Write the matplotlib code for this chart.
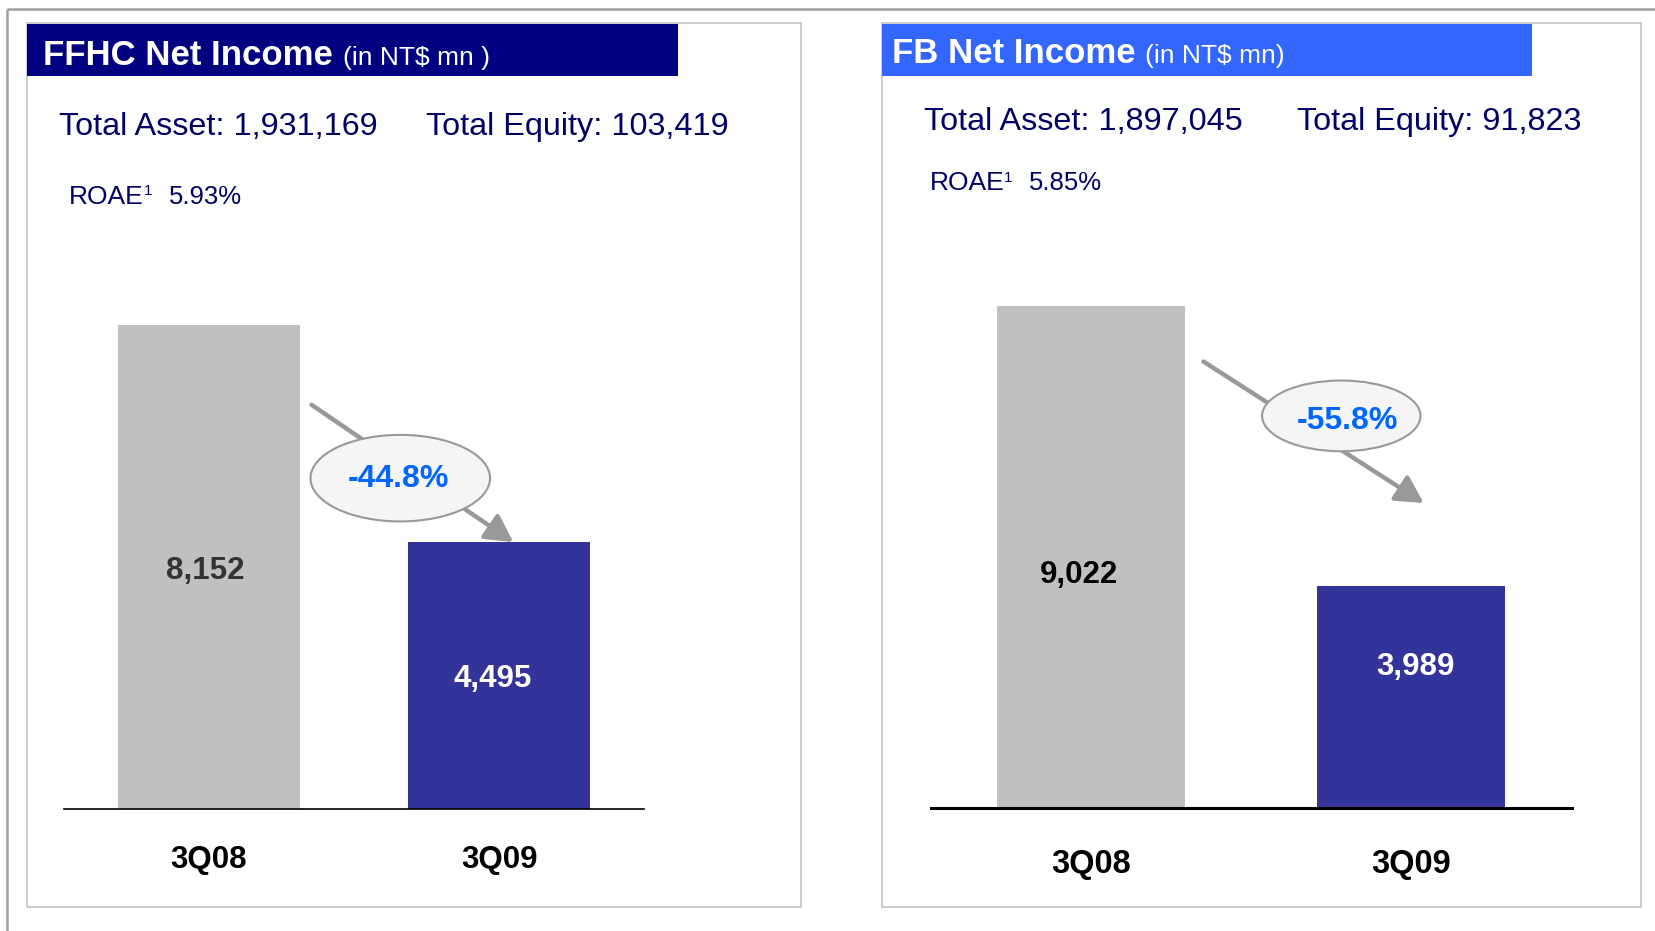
import matplotlib
matplotlib.use('Agg')
import matplotlib.pyplot as plt
from matplotlib.patches import Rectangle, Ellipse, FancyArrowPatch

plt.rcParams['font.family'] = ['Liberation Sans', 'DejaVu Sans']

# data
quarters = ['3Q08', '3Q09']
ffhc_income = [8152, 4495]
fb_income = [9022, 3989]
ffhc_change = '-44.8%'
fb_change = '-55.8%'
ffhc_asset = '1,931,169'
ffhc_equity = '103,419'
ffhc_roae = '5.93%'
fb_asset = '1,897,045'
fb_equity = '91,823'
fb_roae = '5.85%'

# layout is worked out in a 1568x882 reference frame, scaled to the output
W, H = 1568, 882
NAVY_TXT = '#000066'
GREY_BAR = '#C0C0C0'
BLUE_BAR = '#333399'
ARROW = '#999999'

fig = plt.figure(figsize=(16.56, 9.31), dpi=100)


def frac(x0, y0, x1, y1):
    return [x0 / W, 1 - y1 / H, (x1 - x0) / W, (y1 - y0) / H]


bg = fig.add_axes([0, 0, 1, 1])
bg.set_xlim(0, W)
bg.set_ylim(H, 0)
bg.axis('off')

# outer slide frame
bg.plot([7, W], [8.5, 8.5], color='#a0a0a0', lw=1.8, solid_capstyle='butt')
bg.plot([7, 7], [8.5, H], color='#a0a0a0', lw=1.8, solid_capstyle='butt')

panels = [
    dict(title='FFHC Net Income', unit='(in NT$ mn )', head='#000080',
         box=(26, 21.5, 758, 859.5), bar=(26, 22.5, 642, 72),
         tx=40.5, tunit=325, tby=61.6,
         asset=ffhc_asset, equity=ffhc_equity, roae=ffhc_roae,
         ax_=(56, 403, 128), rx=(65.5, 136, 159.6), ry=193,
         vals=ffhc_income, axes=(60.5, 308, 610, 766), width=0.627, spine=1.2,
         vfrac=[0.5, 0.5], vdx=[-3, -5], vdy=[-3, -3],
         vcol=['#333333', 'white'],
         cat_off=37, cat_fs=22.5,
         arrow=((295, 383.5), (486, 513.5)), ell=(379, 453, 170, 82),
         pct=ffhc_change, pct_xy=(377, 454)),
    dict(title='FB Net Income', unit='(in NT$ mn)', head='#3366FF',
         box=(835, 21.5, 1554, 859.5), bar=(835, 22.5, 1451, 72),
         tx=845, tunit=1084, tby=60,
         asset=fb_asset, equity=fb_equity, roae=fb_roae,
         ax_=(875, 1228, 123), rx=(880, 951, 974.6), ry=180,
         vals=fb_income, axes=(881.6, 290, 1488, 765), width=0.587, spine=2.2,
         vfrac=[0.47, 0.66], vdx=[-9, 3], vdy=[-2, -4],
         vcol=['black', 'white'],
         cat_off=41, cat_fs=23.5,
         arrow=((1139.5, 342.5), (1348, 476.5)), ell=(1270, 394, 150, 67),
         pct=fb_change, pct_xy=(1276, 399)),
]

for p in panels:
    x0, y0, x1, y1 = p['box']
    bg.add_patch(Rectangle((x0, y0), x1 - x0, y1 - y0, fill=False,
                           edgecolor='#c4c4c4', lw=1.2))
    x0, y0, x1, y1 = p['bar']
    bg.add_patch(Rectangle((x0, y0), x1 - x0, y1 - y0, facecolor=p['head'],
                           edgecolor='none'))
    bg.text(p['tx'], p['tby'], p['title'], color='white', fontsize=25,
            fontweight='bold', va='baseline', ha='left')
    bg.text(p['tunit'], p['tby'], p['unit'], color='white', fontsize=19,
            va='baseline', ha='left')

    ax0, ax1, ay = p['ax_']
    bg.text(ax0, ay, 'Total Asset: ' + p['asset'], color=NAVY_TXT,
            fontsize=23.3, va='baseline', ha='left')
    bg.text(ax1, ay, 'Total Equity: ' + p['equity'], color=NAVY_TXT,
            fontsize=23.3, va='baseline', ha='left')

    r0, r1, r2 = p['rx']
    bg.text(r0, p['ry'], 'ROAE', color=NAVY_TXT, fontsize=19,
            va='baseline', ha='left')
    bg.text(r1, p['ry'] - 8, '1', color=NAVY_TXT, fontsize=11,
            va='baseline', ha='left')
    bg.text(r2, p['ry'], p['roae'], color=NAVY_TXT, fontsize=18.5,
            va='baseline', ha='left')

    # change arrow with bubble
    (sx, sy), (ex, ey) = p['arrow']
    bg.add_patch(FancyArrowPatch((sx, sy), (ex, ey),
                                 arrowstyle='-|>,head_length=0.55,head_width=0.3',
                                 mutation_scale=30, lw=3.2, color=ARROW,
                                 shrinkA=0, shrinkB=0, zorder=3))
    cx, cy, ew, eh = p['ell']
    bg.add_patch(Ellipse((cx, cy), ew, eh, facecolor='#F5F5F5',
                         edgecolor='#999999', lw=1.5, zorder=4))
    bg.text(p['pct_xy'][0], p['pct_xy'][1], p['pct'], color='#0066FF',
            fontsize=23, fontweight='bold', ha='center', va='center', zorder=5)

    # the bars
    ax = fig.add_axes(frac(*p['axes']))
    ax.set_facecolor('none')
    vals = p['vals']
    xs = range(len(vals))
    ax.bar(xs, vals, width=p['width'], color=[GREY_BAR, BLUE_BAR], zorder=1)
    ax.set_xlim(-0.5, 1.5)
    ax.set_ylim(0, max(vals))
    for s in ['top', 'left', 'right']:
        ax.spines[s].set_visible(False)
    ax.spines['bottom'].set_linewidth(p['spine'])
    ax.spines['bottom'].set_color('black')
    ax.spines['bottom'].set_zorder(3)
    ax.set_xticks([])
    ax.set_yticks([])
    for i, v in enumerate(vals):
        ax.annotate(f'{v:,}', (i, v * p['vfrac'][i]),
                    xytext=(p['vdx'][i], p['vdy'][i]), textcoords='offset points',
                    ha='center', va='center', fontsize=22.5,
                    fontweight='bold', color=p['vcol'][i])
        ax.annotate(quarters[i], (i, 0), xytext=(0, -p['cat_off']),
                    textcoords='offset points', ha='center', va='center',
                    fontsize=p['cat_fs'], fontweight='bold', color='black',
                    annotation_clip=False)

fig.savefig('out.png', dpi=100)
